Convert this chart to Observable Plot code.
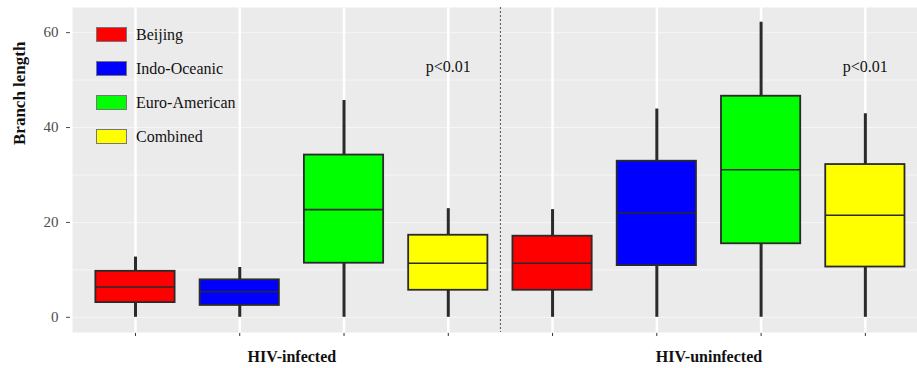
<!DOCTYPE html>
<html>
<head>
<meta charset="utf-8">
<script src="https://cdn.jsdelivr.net/npm/d3@7"></script>
<script src="https://cdn.jsdelivr.net/npm/@observablehq/plot@0.6"></script>
<style>
  html, body { margin: 0; padding: 0; background: #fff; }
  #wrap { position: relative; width: 917px; height: 368px; font-family: "Times New Roman", Times, "Liberation Serif", "Noto Serif", "DejaVu Serif", serif; }
  #legend { position: absolute; left: 96px; top: 27px; }
  .row { display: flex; align-items: center; height: 15px; margin-bottom: 19px; }
  .sw { width: 29px; height: 13px; border: 1px solid #777; margin-right: 9px; box-sizing: content-box; }
  .lab { font-size: 16px; color: #111; line-height: 15px; }
</style>
</head>
<body>
<div id="wrap"></div>
<script>
const groups = ["HIV-infected", "HIV-uninfected"];
const lineages = ["Beijing", "Indo-Oceanic", "Euro-American", "Combined"];
const colors = ["#ff0000", "#0000ff", "#00ff00", "#ffff00"];
// per box, in order: infected (B, I, E, C), uninfected (B, I, E, C)
const lower  = [0, 0, 0, 0, 0, 0, 0, 0];
const q1     = [3.1, 2.5, 11.4, 5.7, 5.7, 10.9, 15.5, 10.6];
const median = [6.4, 5.4, 22.7, 11.4, 11.4, 22.0, 31.1, 21.5];
const q3     = [9.7, 7.9, 34.2, 17.3, 17.1, 32.9, 46.6, 32.2];
const upper  = [12.7, 10.5, 45.7, 22.9, 22.7, 43.9, 62.2, 42.9];
const yTicks = [0, 20, 40, 60];
const pLabel = "p<0.01";

const boxes = q1.map((_, i) => ({
  pos: i + 1,
  group: groups[Math.floor(i / 4)],
  lineage: lineages[i % 4],
  color: colors[i % 4],
  lo: lower[i], q1: q1[i], med: median[i], q3: q3[i], hi: upper[i]
}));
const positions = boxes.map(d => d.pos);
const groupCenters = groups.map((g) => d3.mean(boxes.filter(d => d.group === g), d => d.pos));
const separators = [d3.mean([positions[3], positions[4]])];
const pNotes = groups.map((g) => ({ x: d3.max(boxes.filter(d => d.group === g), d => d.pos), y: 52.8, text: pLabel }));
const hw = 0.38;
const font = "'Times New Roman', Times, 'Liberation Serif', 'Noto Serif', 'DejaVu Serif', serif";

const plot = Plot.plot({
  width: 917,
  height: 368,
  marginLeft: 72,
  marginRight: 0,
  marginTop: 7,
  marginBottom: 36,
  style: { fontFamily: font, background: "transparent" },
  x: { type: "linear", domain: [0.396, 8.5] },
  y: { domain: [-3.2, 65.3] },
  marks: [
    Plot.frame({ fill: "#ebebeb", stroke: null }),
    Plot.ruleY(d3.range(0, 61, 10), { stroke: "#ffffff", strokeOpacity: 0.55, strokeWidth: 1 }),
    Plot.ruleX(positions, { stroke: "#ffffff", strokeWidth: 2.5 }),
    Plot.ruleX(separators, { stroke: "#555", strokeWidth: 1, strokeDasharray: "2,2" }),
    Plot.ruleX(boxes, { x: "pos", y1: "lo", y2: "hi", stroke: "#2a2a2a", strokeWidth: 3 }),
    Plot.rect(boxes, { x1: d => d.pos - hw, x2: d => d.pos + hw, y1: "q1", y2: "q3", fill: "color", stroke: "#2a2a2a", strokeWidth: 1.8 }),
    Plot.ruleY(boxes, { y: "med", x1: d => d.pos - hw, x2: d => d.pos + hw, stroke: "#2a2a2a", strokeWidth: 1.6 }),
    Plot.text(pNotes, { x: "x", y: "y", text: "text", fontSize: 16, fill: "#111" }),
    Plot.axisY({ ticks: yTicks, tickSize: 4, tickPadding: 8, dx: -2, fontSize: 15, color: "#4d4d4d", label: null }),
    Plot.axisX({ ticks: positions, tickSize: 3, tickFormat: () => "", dy: 1, color: "#333", label: null }),
    Plot.axisX({ ticks: groupCenters, tickSize: 0, tickPadding: 18, tickFormat: (d, i) => groups[i], fontSize: 16, fontWeight: "bold", fill: "#111", label: null }),
    Plot.text(["Branch length"], { frameAnchor: "left", dx: -53, dy: -25, rotate: -90, fontSize: 17, fontWeight: "bold", fill: "#111" })
  ]
});

const wrap = document.getElementById("wrap");
wrap.appendChild(plot);
const legend = document.createElement("div");
legend.id = "legend";
lineages.forEach((name, i) => {
  const row = document.createElement("div");
  row.className = "row";
  const sw = document.createElement("div");
  sw.className = "sw";
  sw.style.background = colors[i];
  const lab = document.createElement("span");
  lab.className = "lab";
  lab.textContent = name;
  row.appendChild(sw);
  row.appendChild(lab);
  legend.appendChild(row);
});
wrap.appendChild(legend);
plot.style.position = "absolute";
plot.style.left = "0";
plot.style.top = "0";
</script>
</body>
</html>
